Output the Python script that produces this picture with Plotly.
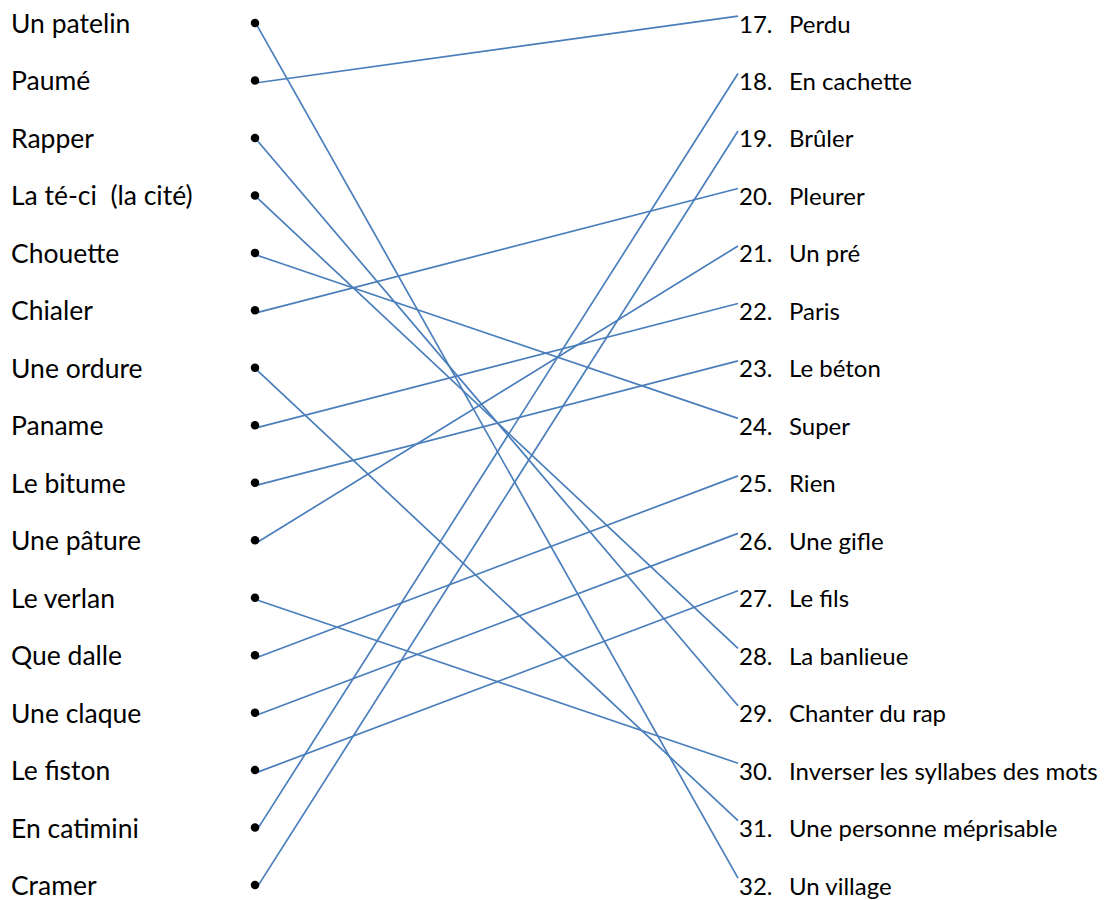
import plotly.graph_objects as go

left_words = ["Un patelin", "Paumé", "Rapper", "La té-ci  (la cité)", "Chouette", "Chialer",
              "Une ordure", "Paname", "Le bitume", "Une pâture", "Le verlan", "Que dalle",
              "Une claque", "Le fiston", "En catimini", "Cramer"]
right_numbers = ["17.", "18.", "19.", "20.", "21.", "22.", "23.", "24.", "25.", "26.", "27.",
                 "28.", "29.", "30.", "31.", "32."]
right_words = ["Perdu", "En cachette", "Brûler", "Pleurer", "Un pré", "Paris", "Le béton",
               "Super", "Rien", "Une gifle", "Le fils", "La banlieue", "Chanter du rap",
               "Inverser les syllabes des mots", "Une personne méprisable", "Un village"]
# index of the right-hand definition matched to each left word
matches = [15, 0, 12, 11, 7, 3, 14, 5, 6, 4, 13, 8, 9, 10, 1, 2]

W, H = 1114, 900
ROW0, STEP = 23, 57.47
X_TEXT_L = 9
X_DOT = 255
X_END = 738
X_NUM = 737
X_DEF = 787
LINE_COLOR = "#4A7EBB"
FONT = "Lato"

fig = go.Figure()

n = len(left_words)
for i, j in enumerate(matches):
    fig.add_trace(go.Scatter(
        x=[X_DOT + 2, X_END], y=[i + 0.04, j - 0.12], mode="lines",
        line=dict(color=LINE_COLOR, width=1.7), hoverinfo="skip", showlegend=False))

fig.add_trace(go.Scatter(
    x=[X_DOT] * n, y=list(range(n)), mode="markers",
    marker=dict(color="black", size=8.5), hoverinfo="skip", showlegend=False))

for i, w in enumerate(left_words):
    fig.add_annotation(x=X_TEXT_L, y=i, text=w, showarrow=False, xanchor="left",
                       yanchor="middle", font=dict(family=FONT, size=26.5, color="black"))
for j, (num, w) in enumerate(zip(right_numbers, right_words)):
    fig.add_annotation(x=X_NUM, y=j, text=num, showarrow=False, xanchor="left",
                       yanchor="middle", font=dict(family=FONT, size=24, color="black"))
    fig.add_annotation(x=X_DEF, y=j, text=w, showarrow=False, xanchor="left",
                       yanchor="middle", font=dict(family=FONT, size=24, color="black"))

fig.update_layout(
    width=W, height=H, margin=dict(l=0, r=0, t=0, b=0),
    paper_bgcolor="white", plot_bgcolor="white", showlegend=False,
    xaxis=dict(range=[0, W], visible=False, fixedrange=True),
    yaxis=dict(range=[(H - ROW0) / STEP, -ROW0 / STEP], visible=False, fixedrange=True),
)

fig.write_html("out.html", config={"displayModeBar": False},
               post_script="document.body.style.margin='0';document.body.style.overflow='hidden';")
